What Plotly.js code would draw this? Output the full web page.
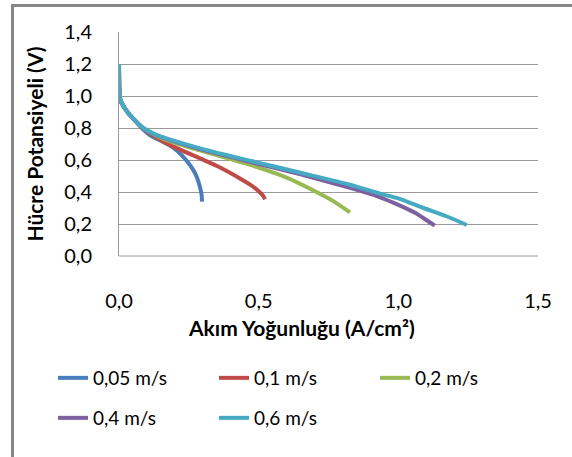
<!DOCTYPE html>
<html>
<head>
<meta charset="utf-8">
<script src="https://cdn.plot.ly/plotly-3.0.1.min.js"></script>
<style>html,body{margin:0;padding:0;background:#fff;}#chart{width:572px;height:457px;}</style>
</head>
<body>
<div id="chart"></div>
<script>
// Series names
const seriesNames = ["0,05 m/s", "0,1 m/s", "0,2 m/s", "0,4 m/s", "0,6 m/s"];

// Current density (A/cm²) and cell potential (V) per flow speed
const x005 = [0, 0.001, 0.003, 0.01, 0.03, 0.05, 0.087, 0.11, 0.15, 0.18, 0.21, 0.24, 0.265, 0.278, 0.29, 0.296, 0.297];
const y005 = [1.2, 1.05, 0.99, 0.955, 0.90, 0.86, 0.79, 0.756, 0.72, 0.694, 0.655, 0.60, 0.54, 0.496, 0.43, 0.38, 0.34];

const x01 = [0, 0.001, 0.003, 0.01, 0.03, 0.05, 0.087, 0.13, 0.17, 0.29, 0.36, 0.433, 0.475, 0.50, 0.515, 0.523];
const y01 = [1.2, 1.05, 0.99, 0.955, 0.90, 0.86, 0.795, 0.745, 0.704, 0.61, 0.555, 0.485, 0.44, 0.405, 0.378, 0.355];

const x02 = [0, 0.001, 0.003, 0.01, 0.03, 0.05, 0.087, 0.13, 0.17, 0.29, 0.47, 0.6, 0.707, 0.77, 0.827];
const y02 = [1.2, 1.05, 0.99, 0.955, 0.90, 0.86, 0.80, 0.755, 0.725, 0.66, 0.569, 0.49, 0.40, 0.34, 0.272];

const x04 = [0, 0.001, 0.003, 0.01, 0.03, 0.05, 0.087, 0.13, 0.17, 0.29, 0.47, 0.65, 0.83, 0.93, 1.0, 1.06, 1.1, 1.13];
const y04 = [1.2, 1.05, 0.99, 0.955, 0.90, 0.86, 0.80, 0.758, 0.732, 0.668, 0.588, 0.51, 0.424, 0.37, 0.32, 0.27, 0.225, 0.19];

const x06 = [0, 0.001, 0.003, 0.01, 0.03, 0.05, 0.087, 0.13, 0.17, 0.29, 0.47, 0.65, 0.83, 0.935, 1.0, 1.09, 1.17, 1.245];
const y06 = [1.2, 1.05, 0.99, 0.955, 0.90, 0.86, 0.80, 0.76, 0.735, 0.673, 0.595, 0.52, 0.444, 0.39, 0.36, 0.30, 0.25, 0.194];

const xTicks = [0, 0.5, 1.0, 1.5];
const yTicks = [0, 0.2, 0.4, 0.6, 0.8, 1.0, 1.2, 1.4];

const xTitle = "Akım Yoğunluğu (A/cm²)";
const yTitle = "Hücre Potansiyeli (V)";

const colors = ["#4a7ebb", "#be4b48", "#98b954", "#7d60a0", "#46aac5"];
const xs = [x005, x01, x02, x04, x06];
const ys = [y005, y01, y02, y04, y06];
const legendIds = ["legend", "legend", "legend", "legend2", "legend2"];

const traces = seriesNames.map((n, i) => ({
  x: xs[i], y: ys[i], name: n, type: "scatter", mode: "lines",
  line: {color: colors[i], width: 4, shape: "spline", smoothing: 0.6},
  legend: legendIds[i]
}));

const font = "Lato, 'Open Sans', sans-serif";
const legendCommon = {
  orientation: "h", xref: "paper", yref: "paper", xanchor: "left", yanchor: "middle",
  font: {family: font, size: 19, color: "#000"}, entrywidth: 116, entrywidthmode: "pixels",
  bgcolor: "rgba(0,0,0,0)", traceorder: "normal", itemwidth: 30
};

const layout = {
  width: 572, height: 457,
  margin: {l: 119, r: 34, t: 32, b: 201},
  paper_bgcolor: "#fff", plot_bgcolor: "#fff",
  separators: ",.",
  font: {family: font, size: 19, color: "#000"},
  showlegend: true,
  xaxis: {
    range: [0, 1.5], tickvals: xTicks, tickformat: ".1f",
    showgrid: false, zeroline: false, showline: false,
    ticks: "outside", ticklen: 27, tickcolor: "rgba(0,0,0,0)",
    tickfont: {family: font, size: 20}
  },
  yaxis: {
    range: [0, 1.4], tickvals: yTicks, tickformat: ".1f",
    showgrid: true, gridcolor: "#9a9a9a", gridwidth: 1,
    zeroline: false, showline: true, linecolor: "#9a9a9a", linewidth: 1,
    ticks: "outside", ticklen: 22, tickcolor: "rgba(0,0,0,0)",
    tickfont: {family: font, size: 20},
    title: {text: yTitle, font: {family: font, size: 21, weight: "bold"}, standoff: 14}
  },
  annotations: [{
    text: xTitle, xref: "paper", yref: "paper",
    x: (301 - 119) / 419, y: (256 - 327) / 224, xanchor: "center", yanchor: "middle",
    showarrow: false, font: {family: font, size: 21, weight: "bold", color: "#000"}
  }],
  legend: Object.assign({}, legendCommon, {x: (53 - 119) / 419, y: (256 - 378) / 224}),
  legend2: Object.assign({}, legendCommon, {x: (53 - 119) / 419, y: (256 - 418) / 224}),
  shapes: [{
    type: "rect", xref: "paper", yref: "paper",
    x0: (12.5 - 119) / 419, x1: 1.3, y0: -1.5, y1: (256 - 5.5) / 224,
    line: {color: "#868686", width: 3}, fillcolor: "rgba(0,0,0,0)", layer: "below"
  }, {
    type: "line", xref: "paper", yref: "paper", x0: 0, x1: 1, y0: 0, y1: 0,
    line: {color: "#9a9a9a", width: 1}
  }]
};

Plotly.newPlot("chart", traces, layout, {displayModeBar: false, staticPlot: true});
</script>
</body>
</html>
